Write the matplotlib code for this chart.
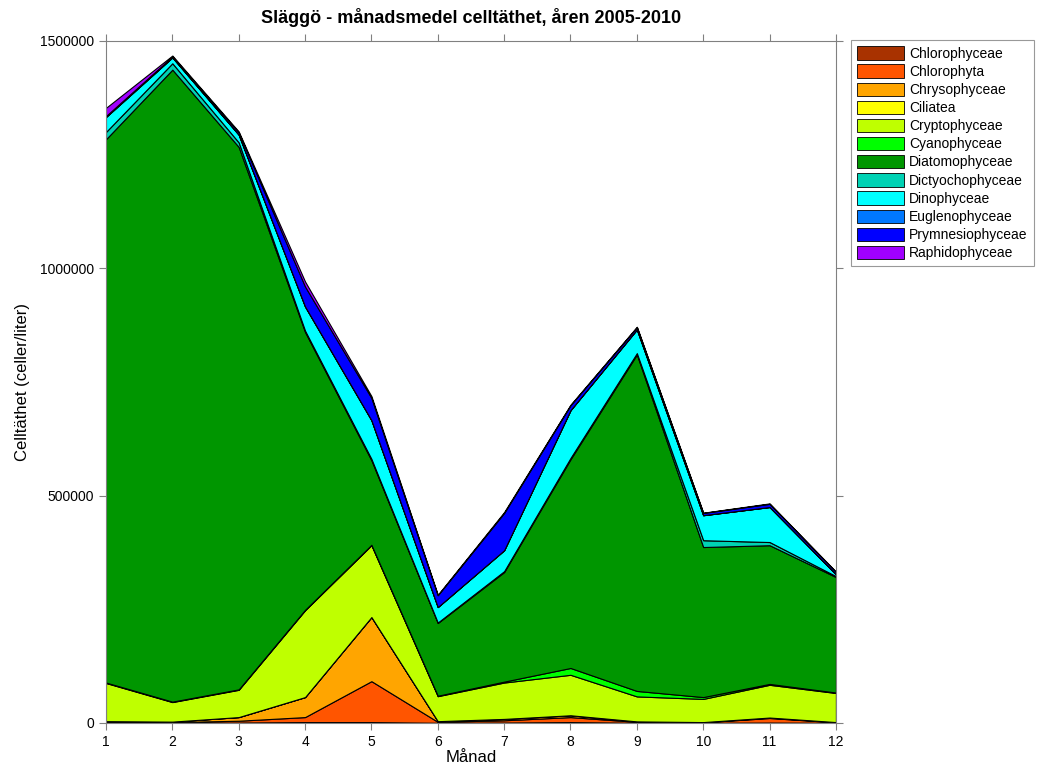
import matplotlib
matplotlib.use('Agg')
import matplotlib.pyplot as plt
from matplotlib.patches import Patch

plt.rcParams['font.family'] = ['Liberation Sans', 'DejaVu Sans']

months = [1, 2, 3, 4, 5, 6, 7, 8, 9, 10, 11, 12]

groups = ["Chlorophyceae", "Chlorophyta", "Chrysophyceae", "Ciliatea",
          "Cryptophyceae", "Cyanophyceae", "Diatomophyceae", "Dictyochophyceae",
          "Dinophyceae", "Euglenophyceae", "Prymnesiophyceae", "Raphidophyceae"]

chlorophyceae = [1000, 1000, 1000, 2000, 2000, 500, 1000, 2000, 500, 500, 1000, 500]
chlorophyta = [2000, 1000, 4000, 11000, 90000, 2000, 5000, 11000, 2000, 1000, 10000, 1000]
chrysophyceae = [1000, 1000, 8000, 44000, 141000, 1500, 3000, 4000, 1000, 500, 1000, 500]
ciliatea = [0, 0, 0, 0, 0, 0, 0, 0, 0, 0, 0, 0]
cryptophyceae = [84000, 43000, 60000, 191000, 158000, 55000, 80000, 89000, 55000, 51000, 72000, 64000]
cyanophyceae = [1000, 1000, 1000, 1000, 1000, 1000, 2000, 15000, 12000, 4000, 2000, 1000]
diatomophyceae = [1195000, 1390000, 1193000, 611000, 186000, 160000, 241000, 459000, 740000, 330000, 305000, 254000]
dictyochophyceae = [16000, 14000, 10000, 3000, 3000, 1000, 2000, 3000, 3000, 15000, 7000, 2000]
dinophyceae = [33000, 13000, 17000, 53000, 85000, 34000, 46000, 105000, 52000, 55000, 77000, 4000]
euglenophyceae = [0, 0, 0, 0, 0, 0, 0, 0, 0, 0, 0, 0]
prymnesiophyceae = [2000, 2000, 5000, 44000, 49000, 26000, 82000, 11000, 5000, 5000, 7000, 5000]
raphidophyceae = [18000, 2000, 2000, 11000, 4000, 1000, 2000, 1000, 1000, 500, 1000, 1000]

series = [chlorophyceae, chlorophyta, chrysophyceae, ciliatea, cryptophyceae,
          cyanophyceae, diatomophyceae, dictyochophyceae, dinophyceae,
          euglenophyceae, prymnesiophyceae, raphidophyceae]

colors = ["#A83200", "#FF5500", "#FFA500", "#FFFF00", "#BFFF00", "#00FF00",
          "#009600", "#00D2B4", "#00FFFF", "#0078FF", "#0000FF", "#A000FF"]

fig = plt.figure(figsize=(10.41, 7.76), dpi=100)
ax = fig.add_axes([0.1018, 0.0683, 0.7012, 0.8789])

ax.stackplot(months, *series, colors=colors, edgecolor='black', linewidth=0.8)

ax.set_xlim(1, 12)
ax.set_ylim(0, 1500000)
ax.set_xticks(months)
ax.set_yticks([0, 500000, 1000000, 1500000])
ax.set_yticklabels(["0", "500000", "1000000", "1500000"])
ax.tick_params(direction='out', color='#808080', labelsize=10, length=5,
               top=True, right=True)
for s in ax.spines.values():
    s.set_color('#808080')

ax.set_title("Släggö - månadsmedel celltäthet, åren 2005-2010",
             fontsize=13, fontweight='bold', pad=13)
ax.set_xlabel("Månad", fontsize=12, labelpad=1)
ax.set_ylabel("Celltäthet (celler/liter)", fontsize=12, labelpad=7)

handles = [Patch(facecolor=c, edgecolor='black', linewidth=0.6) for c in colors]
leg = fig.legend(handles, groups, loc='upper left',
                 bbox_to_anchor=(851 / 1041, 1 - 40 / 776),
                 fontsize=10, frameon=True, fancybox=False,
                 handlelength=3.4, handleheight=1.1, handletextpad=0.35,
                 labelspacing=0.27, borderpad=0.45, borderaxespad=0)
leg.get_frame().set_edgecolor('#808080')
leg.get_frame().set_linewidth(0.8)

fig.savefig("out.png", dpi=100)
